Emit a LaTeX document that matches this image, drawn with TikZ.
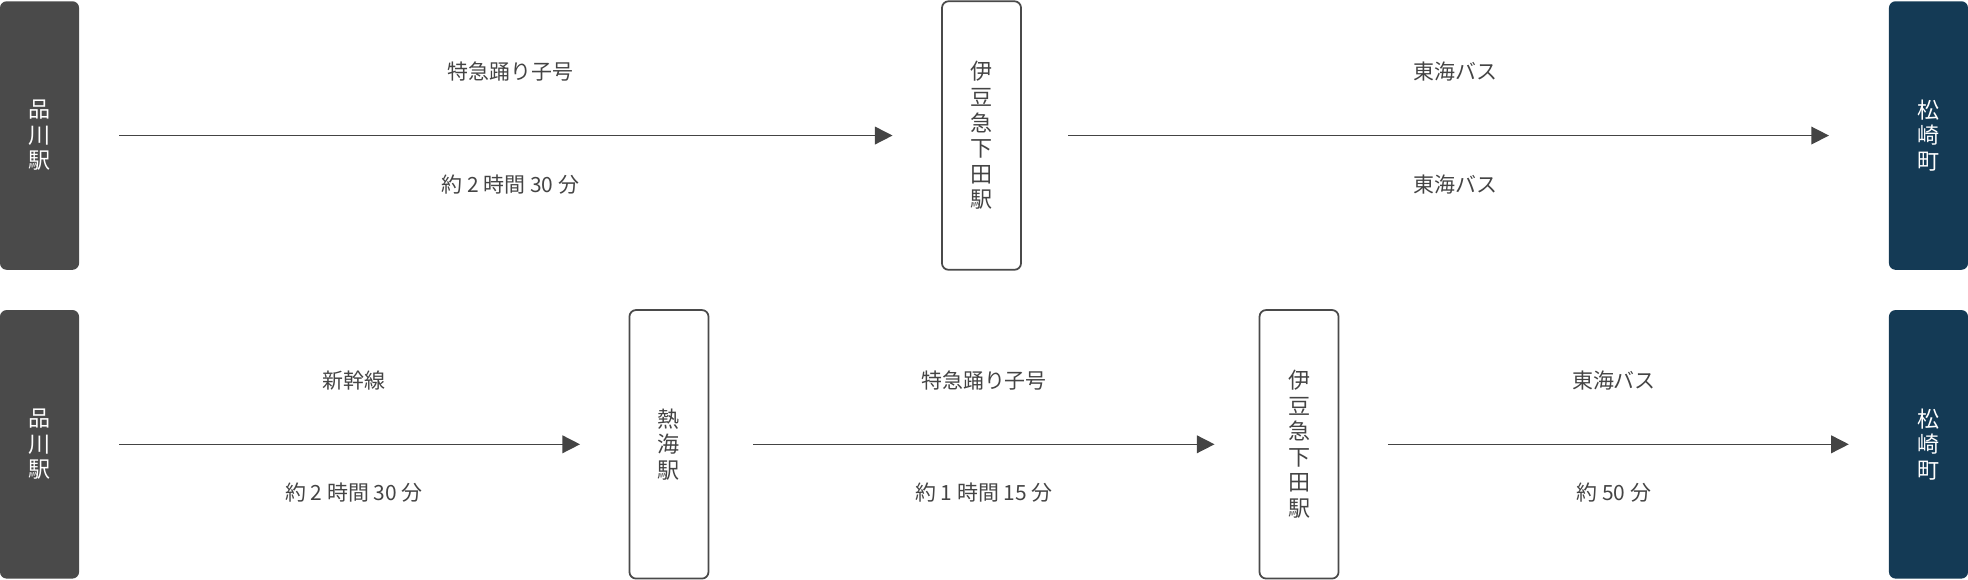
\documentclass[tikz,border=0pt]{standalone}
\usepackage{fontspec}
\setmainfont{Noto Sans CJK JP}
\usetikzlibrary{arrows.meta}
\definecolor{stgray}{HTML}{4A4A4A}
\definecolor{stnavy}{HTML}{143A55}
\definecolor{txtgray}{HTML}{444444}
\begin{document}
\begin{tikzpicture}[x=0.02cm,y=-0.02cm]
	\tikzstyle{station} = [
		rectangle, rounded corners=3pt, minimum width=1.26cm, minimum height=4.28cm,
		align=center, font=\fontsize{10}{11.6}\selectfont, inner sep=0pt
	]
	\tikzstyle{start} = [station, fill=stgray, text=white]
	\tikzstyle{goal} = [station, fill=stnavy, text=white]
	\tikzstyle{via} = [station, draw=stgray, line width=0.8pt, fill=white, text=txtgray]
	\tikzstyle{conn} = [
		-{Triangle[length=8pt,width=8pt]}, draw=txtgray, line width=0.7pt
	]
	\tikzstyle{route} = [
		above, yshift=0.73cm, font=\fontsize{9.5}{11}\selectfont, text=txtgray
	]
	\tikzstyle{time} = [
		below, yshift=-0.49cm, font=\fontsize{9.5}{11}\selectfont, text=txtgray
	]
	\useasboundingbox (0,0) rectangle (1568,462);

	% Route 1
	\node (start1) [start] at (31.5,108) {品\\川\\駅};
	\node (shimoda1) [via] at (782,108) {伊\\豆\\急\\下\\田\\駅};
	\node (goal1) [goal] at (1536.5,108) {松\\崎\\町};

	\draw[conn, shorten <=18pt, shorten >=22pt] (start1.east) -- (shimoda1.west)
		node [route, midway] {特急踊り子号}
		node [time, midway] {約 2 時間 30 分};
	\draw[conn, shorten <=21pt, shorten >=27pt] (shimoda1.east) -- (goal1.west)
		node [route, midway] {東海バス}
		node [time, midway] {東海バス};

	% Route 2
	\node (start2) [start] at (31.5,354) {品\\川\\駅};
	\node (atami) [via] at (533,354) {熱\\海\\駅};
	\node (shimoda2) [via] at (1035,354) {伊\\豆\\急\\下\\田\\駅};
	\node (goal2) [goal] at (1536.5,354) {松\\崎\\町};

	\draw[conn, shorten <=18pt, shorten >=22pt] (start2.east) -- (atami.west)
		node [route, midway] {新幹線}
		node [time, midway] {約 2 時間 30 分};
	\draw[conn, shorten <=20pt, shorten >=20pt] (atami.east) -- (shimoda2.west)
		node [route, midway] {特急踊り子号}
		node [time, midway] {約 1 時間 15 分};
	\draw[conn, shorten <=22pt, shorten >=18pt] (shimoda2.east) -- (goal2.west)
		node [route, midway] {東海バス}
		node [time, midway] {約 50 分};
\end{tikzpicture}
\end{document}
